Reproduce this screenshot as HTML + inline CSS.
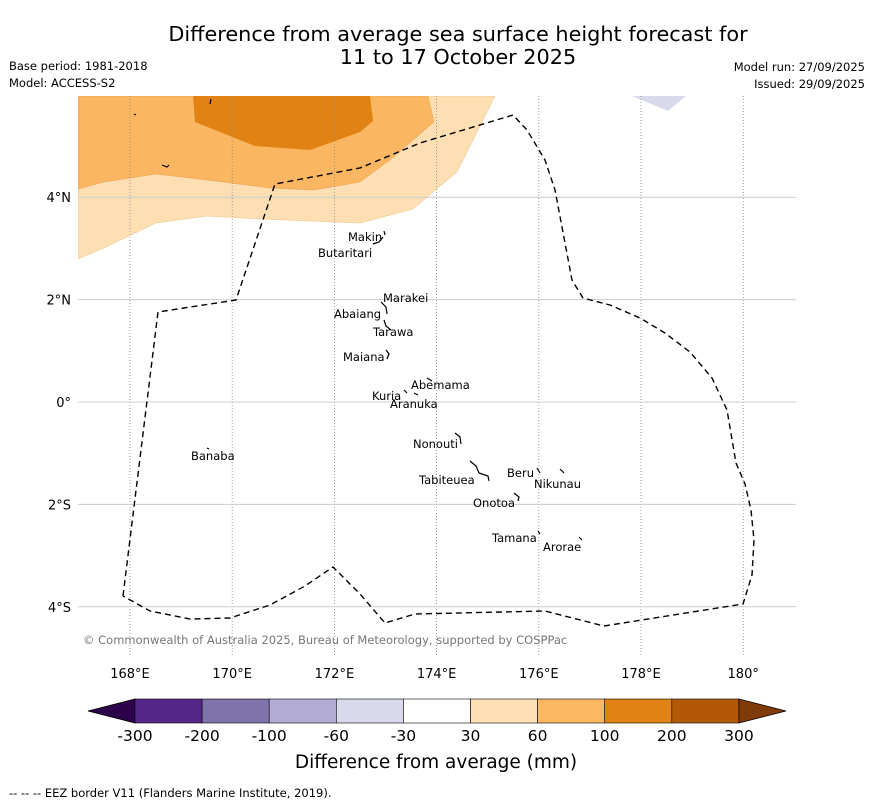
<!DOCTYPE html>
<html><head><meta charset="utf-8"><style>
body{margin:0;background:#fff;font-family:"DejaVu Sans","Liberation Sans",sans-serif;}
svg text{font-family:"DejaVu Sans","Liberation Sans",sans-serif;}
</style></head><body>
<svg id="chart" width="873" height="804" xmlns="http://www.w3.org/2000/svg">
<rect width="873" height="804" fill="#fff"/>
<text x="458" y="41" font-size="20.8" text-anchor="middle">Difference from average sea surface height forecast for</text>
<text x="458" y="64" font-size="20.8" text-anchor="middle">11 to 17 October 2025</text>
<text x="9" y="70" font-size="11.5">Base period: 1981-2018</text>
<text x="9" y="87" font-size="11.5">Model: ACCESS-S2</text>
<text x="865" y="71" font-size="11.5" text-anchor="end">Model run: 27/09/2025</text>
<text x="865" y="88" font-size="11.5" text-anchor="end">Issued: 29/09/2025</text>
<g>
<clipPath id="mc"><rect x="78" y="96" width="718" height="559"/></clipPath>
<g clip-path="url(#mc)">
<polygon fill="#fddfb3" stroke="#f0c080" stroke-width="0.5" points="78,96 495,96 457,172 413,209 360,223 260,219 207,216 156,223 104,248 78,259"/>
<polygon fill="#fab660" stroke="#e8a050" stroke-width="0.5" points="78,96 428,96 434,122 390,160 360,182 314,190 270,188 207,180 156,174 104,182 78,189"/>
<polygon fill="#e08214" points="193,96 370,96 373,121 360,132 310,150 255,146 195,122"/>
<polygon fill="#d8daeb" points="632,96 686,96 668,111"/>
</g>
<g id="grid"></g>
<polyline fill="none" stroke="#000" stroke-width="1.4" stroke-dasharray="6,4" points="123,596 158,312 236,300 275,184 360,168 420,143 513,115 527,130 545,160 555,190 572,280 583,298 610,305 640,318 665,333 690,352 712,378 727,410 736,463 745,484 751,510 754,540 752,575 743,604 604,626 545,611 415,614 385,623 360,594 333,567 305,586 270,605 230,618 190,619 150,611 123,596"/>
<g stroke="#000" stroke-width="1.2" fill="none">
<path d="M384,231 l1,4 M373,244 l6,-2 l4,-5"/><path d="M381,302 l5,5 l1,7 M384,320 l2,6 l5,4"/>
<path d="M386,350 l3,4 l-2,5"/><path d="M427,378 l5,3 M404,390 l3,3 M414,393 l4,2"/>
<path d="M455,433 l5,4 l1,7"/><path d="M470,461 l6,5 l3,7 l9,3 l1,5"/><path d="M537,468 l3,5 M560,469 l4,4"/>
<path d="M514,493 l5,4 l-1,4"/><path d="M538,531 l2,3 M579,537 l3,3"/><path d="M207,448 l2,1"/>
<path d="M162,165 l5,2 l2,-2 M134,114 l2,1 M211,99 l-1,5"/>
</g>
<g font-size="11.5" fill="#000">
<text x="348" y="241">Makin</text><text x="318" y="257">Butaritari</text>
<text x="383" y="302">Marakei</text><text x="334" y="318">Abaiang</text>
<text x="373" y="336">Tarawa</text><text x="343" y="361">Maiana</text>
<text x="411" y="389">Abemama</text><text x="372" y="400">Kuria</text><text x="390" y="408">Aranuka</text>
<text x="413" y="448">Nonouti</text><text x="191" y="460">Banaba</text>
<text x="507" y="477">Beru</text><text x="534" y="488">Nikunau</text>
<text x="419" y="484">Tabiteuea</text><text x="473" y="507">Onotoa</text>
<text x="492" y="542">Tamana</text><text x="543" y="551">Arorae</text>
</g>
<text x="83" y="644" font-size="11.5" fill="#777">© Commonwealth of Australia 2025, Bureau of Meteorology, supported by COSPPac</text>
</g>
<g id="axes"></g>
<g id="cbar"></g>
<text x="436" y="768" font-size="18.5" text-anchor="middle">Difference from average (mm)</text>
<text x="9" y="797" font-size="11.5">--  --  -- EEZ border V11 (Flanders Marine Institute, 2019).</text>
</svg>
<script>
const lonTicks=[168,170,172,174,176,178,180];
const lonLabels=["168°E","170°E","172°E","174°E","176°E","178°E","180°"];
const latTicks=[4,2,0,-2,-4];
const latLabels=["4°N","2°N","0°","2°S","4°S"];
const levels=["-300","-200","-100","-60","-30","30","60","100","200","300"];
const levelColors=["#542788","#8073ac","#b2abd2","#d8daeb","#ffffff","#fee0b6","#fdb863","#e08214","#b35806"];
const ns="http://www.w3.org/2000/svg";
function xLon(l){return 130+(l-168)*51.1;}
function yLat(l){return 402-l*51.2;}
function mk(t,a,p){const e=document.createElementNS(ns,t);for(const k in a)e.setAttribute(k,a[k]);p.appendChild(e);return e;}
const grid=document.getElementById('grid'),axes=document.getElementById('axes'),cb=document.getElementById('cbar');
lonTicks.forEach((l,i)=>{
 const ln=mk('line',{x1:xLon(l),x2:xLon(l),y1:96,y2:655,stroke:'#888','stroke-width':0.8,'stroke-dasharray':'1,2'},grid);
 
 
 const t=mk('text',{x:xLon(l),y:678,'font-size':13,'text-anchor':'middle'},axes);t.textContent=lonLabels[i];
 
 
});
latTicks.forEach((l,i)=>{
 const ln=mk('line',{x1:78,x2:796,y1:yLat(l),y2:yLat(l),stroke:'#ccc','stroke-width':1},grid);
 
 
 const t=mk('text',{x:71,y:yLat(l)+5,'font-size':13,'text-anchor':'end'},axes);t.textContent=latLabels[i];
 
 
});
const cx0=135,cw=67.1,cy=699,ch=24;
const lt=mk('polygon',{points:`${cx0},${cy} ${cx0},${cy+ch} 88,${cy+ch/2}`,fill:'#2d004b',stroke:'#000','stroke-width':0.8},cb);


levelColors.forEach((c,i)=>{
 const r=mk('rect',{x:cx0+i*cw,y:cy,width:cw,height:ch,fill:c,stroke:'#000','stroke-width':0.6},cb);
 
 
});
const xe=cx0+levelColors.length*cw;
const rt=mk('polygon',{points:`${xe},${cy} ${xe},${cy+ch} 786,${cy+ch/2}`,fill:'#7f3b08',stroke:'#000','stroke-width':0.8},cb);


levels.forEach((v,i)=>{
 const t=mk('text',{x:cx0+i*cw,y:741,'font-size':15.5,'text-anchor':'middle'},cb);t.textContent=v;
 
 
});
</script>
</body></html>
